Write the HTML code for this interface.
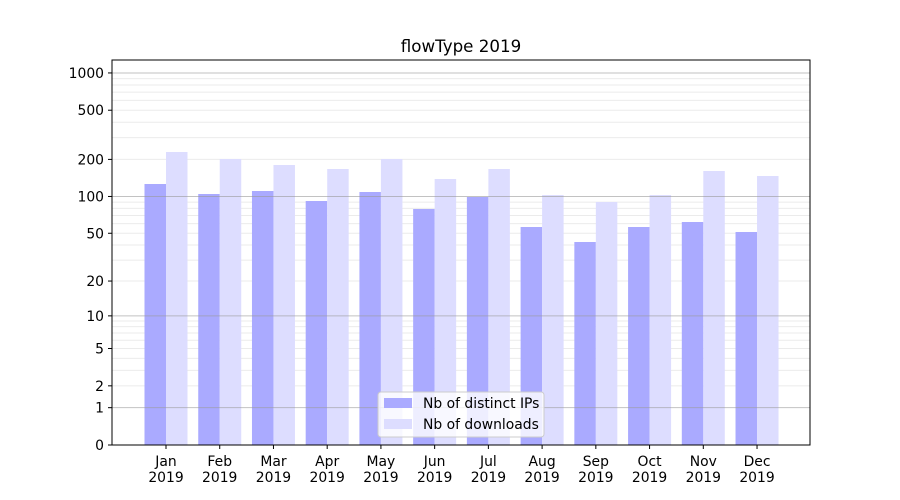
<!DOCTYPE html>
<html><head><meta charset="utf-8"><style>
body{margin:0;background:#fff;}
svg{display:block;font-family:"DejaVu Sans","Liberation Sans",sans-serif;}
</style></head><body>
<svg id="s" width="900" height="500" xmlns="http://www.w3.org/2000/svg">
<rect width="900" height="500" fill="#fff"/>
<g id="minor"></g>
<g id="bars"></g>
<g id="major"></g>
<rect x="112" y="60" width="698" height="385" fill="none" stroke="#000" stroke-width="1"/>
<g id="ticks" font-size="13.9" fill="#000"></g>
<text x="461" y="52" font-size="16.7" text-anchor="middle">flowType 2019</text>
<g>
<rect x="378" y="392" width="166" height="45" rx="3" fill="#fff" fill-opacity="0.8" stroke="#ccc"/>
<rect x="384" y="398" width="28" height="10" fill="#aaaaff"/>
<text x="423" y="408" font-size="13.9">Nb of distinct IPs</text>
<rect x="384" y="419" width="28" height="10" fill="#ddddff"/>
<text x="423" y="429" font-size="13.9">Nb of downloads</text>
</g>
</svg>
<script>
var NS="http://www.w3.org/2000/svg";
function el(p,t,a,txt){var e=document.createElementNS(NS,t);for(var k in a)e.setAttribute(k,a[k]);if(txt!=null)e.textContent=txt;document.getElementById(p).appendChild(e);return e;}
function Y(v){return 445-124*Math.log10(v+1);}
var dec=[1,10,100,1000];
for(var d=0;d<3;d++)for(var m=2;m<=9;m++){var y=Y(dec[d]*m);el("minor","line",{x1:112,x2:810,y1:y,y2:y,stroke:"#ebebeb","stroke-width":1});}
for(var m=2;m<=9;m++){var y=Y(1000*m);if(y>60)el("minor","line",{x1:112,x2:810,y1:y,y2:y,stroke:"#ebebeb","stroke-width":1});}
dec.forEach(function(v){var y=Y(v);el("major","line",{x1:112,x2:810,y1:y,y2:y,stroke:"#999","stroke-opacity":0.6,"stroke-width":1});});
var ip=[184,194,191,201,192,209,197,227,242,227,222,232];
var dl=[152,159,165,169,159,179,169,195,202,195,171,176];
var mon=["Jan","Feb","Mar","Apr","May","Jun","Jul","Aug","Sep","Oct","Nov","Dec"];
for(var i=0;i<12;i++){var c=166+i*53.73;
el("bars","rect",{x:c-21.5,y:ip[i],width:21.5,height:445-ip[i],fill:"#aaaaff"});
el("bars","rect",{x:c,y:dl[i],width:21.5,height:445-dl[i],fill:"#ddddff"});
el("ticks","line",{x1:c,x2:c,y1:445,y2:449,stroke:"#000"});
el("ticks","text",{x:c,y:466,"text-anchor":"middle"},mon[i]);
el("ticks","text",{x:c,y:482,"text-anchor":"middle"},"2019");}
[0,1,2,5,10,20,50,100,200,500,1000].forEach(function(v){var y=Y(v);
el("ticks","line",{x1:108,x2:112,y1:y,y2:y,stroke:"#000"});
el("ticks","text",{x:104,y:y+5,"text-anchor":"end"},String(v));});
</script>
</body></html>
